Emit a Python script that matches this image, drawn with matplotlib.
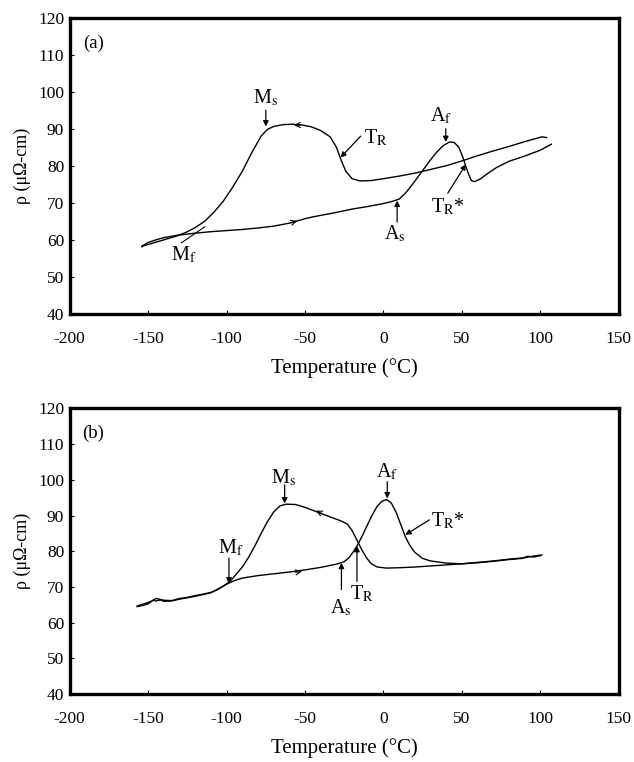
""" Resistivity vs temperature hysteresis loops, panels (a) and (b) """
import matplotlib
matplotlib.use('Agg')
import matplotlib.pyplot as plt

plt.rcParams['font.family'] = ['Liberation Serif', 'DejaVu Serif']
plt.rcParams['mathtext.fontset'] = 'stix'
plt.rcParams['axes.unicode_minus'] = False

# panel (a): cooling branch (hot -> cold)
a_cool_t = [104, 101, 90, 80, 70, 60, 50, 40, 30, 20, 10, 0, -8, -15, -20, -24, -27,
            -30, -34, -40, -46, -52, -58, -64, -70, -74, -78, -84, -90, -96, -102,
            -108, -114, -120, -126, -132, -140, -148, -153, -154]
a_cool_rho = [87.6, 87.8, 86.5, 85.2, 84.0, 82.7, 81.3, 80.0, 79.0, 78.0, 77.2, 76.5,
              76.0, 75.9, 76.5, 78.5, 81.5, 85.0, 87.8, 89.5, 90.5, 91.0, 91.2, 91.1,
              90.6, 89.8, 88.0, 83.5, 78.5, 74.3, 70.5, 67.5, 65.0, 63.3, 62.0, 61.0,
              60.0, 59.0, 58.4, 58.1]
# panel (a): heating branch (cold -> hot)
a_heat_t = [-154, -150, -145, -140, -132, -120, -110, -100, -90, -80, -70, -60, -50,
            -45, -40, -30, -20, -10, 0, 5, 10, 14, 18, 22, 26, 30, 34, 38, 42, 45, 48,
            50, 52, 54, 56, 58, 62, 66, 72, 80, 90, 100, 107]
a_heat_rho = [58.3, 59.3, 60.0, 60.6, 61.2, 61.8, 62.2, 62.5, 62.8, 63.2, 63.7, 64.5,
              65.7, 66.2, 66.6, 67.4, 68.3, 69.0, 69.8, 70.3, 71.0, 72.6, 74.7, 77.0,
              79.3, 81.6, 83.7, 85.4, 86.4, 86.3, 85.0, 83.0, 80.5, 78.0, 76.0, 75.7,
              76.5, 77.8, 79.5, 81.2, 82.6, 84.2, 85.8]

# panel (b): cooling branch (hot -> cold)
b_cool_t = [101, 95, 90, 80, 70, 60, 50, 40, 30, 20, 10, 2, -4, -8, -11, -14, -17, -20,
            -23, -27, -32, -38, -44, -50, -56, -62, -66, -70, -74, -78, -82, -86, -90,
            -94, -98, -102, -106, -110, -115, -120, -125, -130, -135, -140, -145, -148,
            -152, -155, -157]
b_cool_rho = [79.0, 78.6, 78.2, 77.8, 77.3, 76.9, 76.5, 76.2, 75.9, 75.6, 75.4, 75.3,
              75.6, 76.6, 78.3, 80.6, 83.2, 85.8, 87.6, 88.5, 89.3, 90.3, 91.3, 92.3,
              93.1, 93.2, 92.7, 91.0, 88.3, 85.0, 81.5, 78.3, 75.6, 73.5, 71.5, 70.3,
              69.2, 68.5, 68.0, 67.6, 67.1, 66.8, 66.2, 66.3, 66.8, 66.0, 65.4, 65.0,
              64.7]
# panel (b): heating branch (cold -> hot)
b_heat_t = [-157, -153, -150, -147, -145, -142, -140, -135, -130, -120, -110, -104, -100,
            -95, -90, -80, -70, -60, -50, -40, -30, -25, -22, -19, -16, -13, -10, -7,
            -4, -1, 2, 5, 8, 11, 14, 17, 20, 25, 30, 40, 50, 60, 70, 80, 88, 92, 96,
            100]
b_heat_rho = [64.5, 64.9, 65.3, 66.3, 66.1, 66.4, 66.0, 66.1, 66.6, 67.4, 68.4, 69.8,
              70.8, 71.8, 72.5, 73.2, 73.7, 74.2, 74.8, 75.5, 76.4, 77.1, 78.2, 80.0,
              82.2, 84.8, 87.6, 90.3, 92.6, 94.0, 94.5, 93.5, 91.0, 87.5, 84.0, 81.5,
              79.7, 78.0, 77.3, 76.7, 76.5, 76.8, 77.2, 77.7, 78.0, 78.6, 78.4, 78.8]

x_ticks = [-200, -150, -100, -50, 0, 50, 100, 150]
y_ticks = [40, 50, 60, 70, 80, 90, 100, 110, 120]

# (label, text position, arrow start, arrow end)
a_labels = [
    (r'M$_{\rm s}$', (-75, 98.3), (-75, 95.0), (-75, 90.6)),
    (r'T$_{\rm R}$', (-5, 87.6), (-14.5, 88.0), (-27.4, 82.2)),
    (r'A$_{\rm f}$', (37, 93.4), (39.7, 90.0), (39.7, 86.4)),
    (r'A$_{\rm s}$', (7.5, 61.7), (8.7, 64.8), (8.7, 70.6)),
    (r'T$_{\rm R}$*', (41, 68.8), (41, 72.6), (52.6, 80.4)),
    (r'M$_{\rm f}$', (-127, 55.8), None, None),
]
b_labels = [
    (r'M$_{\rm s}$', (-64, 100.5), (-63, 98.6), (-63, 93.4)),
    (r'A$_{\rm f}$', (2.5, 102.3), (2.4, 99.5), (2.4, 94.8)),
    (r'T$_{\rm R}$*', (41, 88.4), (29.3, 88.8), (13.9, 84.6)),
    (r'M$_{\rm f}$', (-97, 80.9), (-98.5, 78.1), (-98.5, 71.0)),
    (r'A$_{\rm s}$', (-27, 64.2), (-26.8, 69.3), (-26.8, 76.8)),
    (r'T$_{\rm R}$', (-14, 68.0), (-16.9, 71.6), (-16.9, 81.5)),
]


def style_axes(ax, tag):
    ax.set_xlim(-200, 150)
    ax.set_ylim(40, 120)
    ax.set_xticks(x_ticks)
    ax.set_yticks(y_ticks)
    ax.tick_params(direction='in', length=3, width=0.8, labelsize=12.5,
                   top=False, right=False)
    ax.tick_params(axis='x', pad=12)
    ax.tick_params(axis='y', pad=4)
    for sp in ax.spines.values():
        sp.set_linewidth(2.4)
    ax.set_xlabel('Temperature (°C)', fontsize=15, labelpad=8)
    ax.set_ylabel('ρ (μΩ-cm)', fontsize=13, labelpad=5)
    ax.text(-185, 113, tag, fontsize=13.5, ha='center', va='center')


def flow_arrow(ax, p0, p1):
    ax.annotate('', xy=p1, xytext=p0,
                arrowprops=dict(arrowstyle='->', lw=0.8, mutation_scale=9,
                                shrinkA=0, shrinkB=0))


def add_labels(ax, labels):
    for text, pos, start, end in labels:
        ax.text(pos[0], pos[1], text, fontsize=14.5, ha='center', va='center')
        if start is not None:
            ax.annotate('', xy=end, xytext=start,
                        arrowprops=dict(arrowstyle='-|>', lw=0.9, color='black',
                                        mutation_scale=8, shrinkA=0, shrinkB=0))


fig = plt.figure(figsize=(6.34, 7.62), dpi=100)
ax_a = fig.add_axes([0.110, 0.588, 0.866, 0.389])
ax_b = fig.add_axes([0.110, 0.089, 0.866, 0.375])

# (a)
ax_a.plot(a_cool_t, a_cool_rho, color='black', lw=1.0)
ax_a.plot(a_heat_t, a_heat_rho, color='black', lw=1.0)
ax_a.plot([-128.8, -114], [59.2, 63.5], color='black', lw=0.8)
flow_arrow(ax_a, (-53, 91.0), (-57, 90.9))
flow_arrow(ax_a, (-59, 64.6), (-55, 65.1))
add_labels(ax_a, a_labels)
style_axes(ax_a, '(a)')

# (b)
ax_b.plot(b_cool_t, b_cool_rho, color='black', lw=1.0)
ax_b.plot(b_heat_t, b_heat_rho, color='black', lw=1.0)
flow_arrow(ax_b, (-39, 90.5), (-43, 91.4))
flow_arrow(ax_b, (-56, 74.1), (-52, 74.4))
add_labels(ax_b, b_labels)
style_axes(ax_b, '(b)')

fig.savefig('out.png', dpi=100)
